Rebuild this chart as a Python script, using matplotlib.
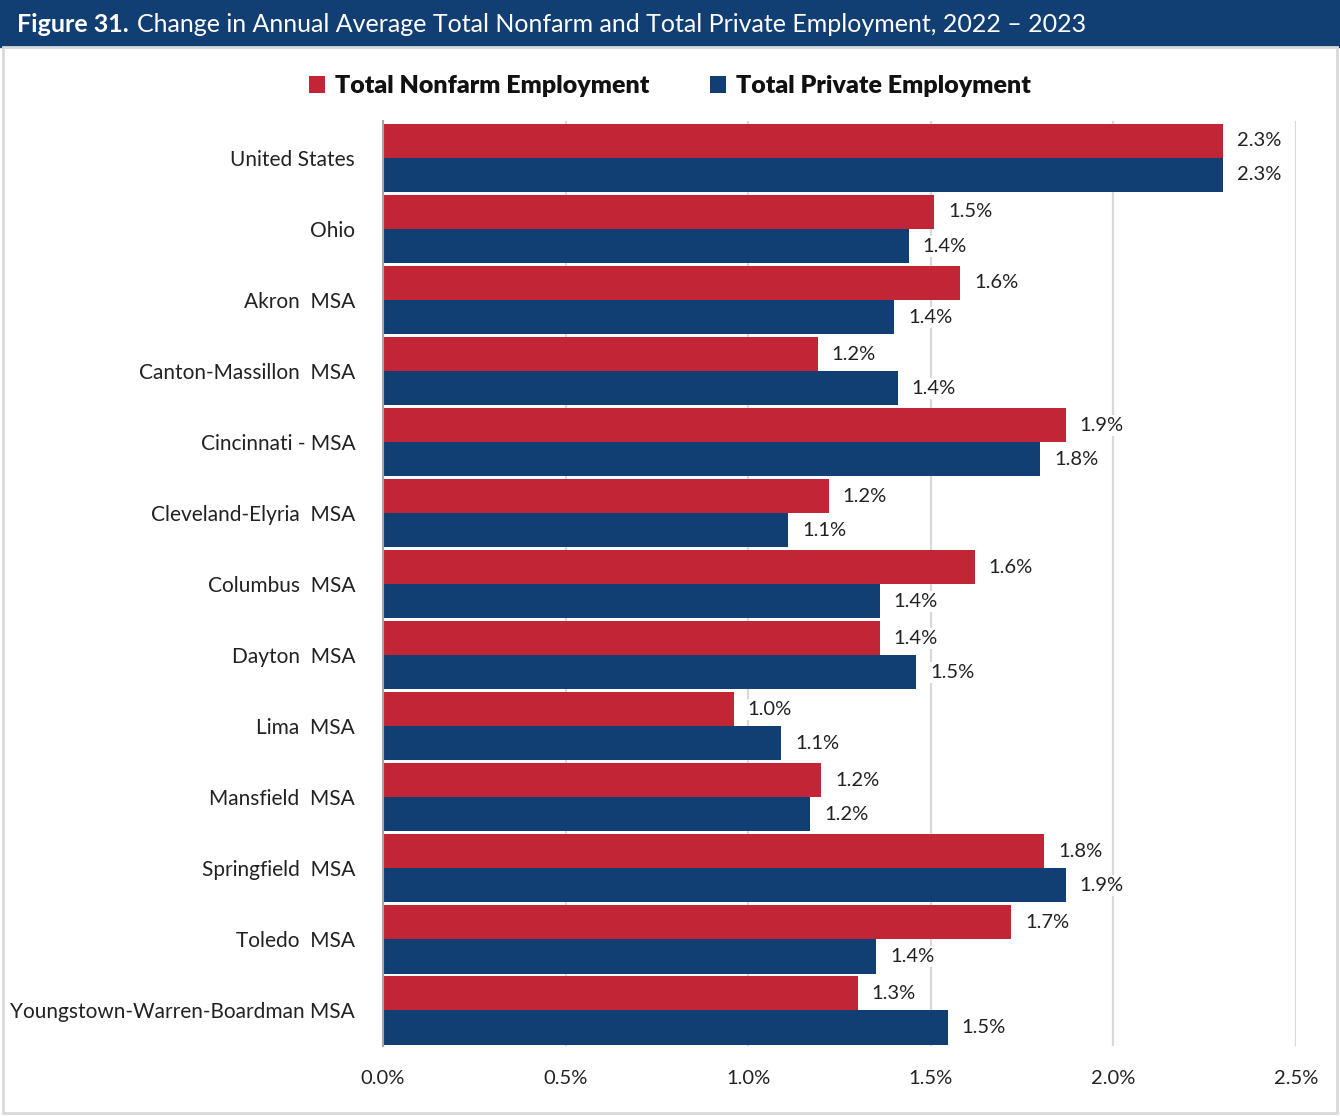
import matplotlib.pyplot as plt
from matplotlib.patches import Rectangle

regions = ['United States', 'Ohio', 'Akron  MSA', 'Canton-Massillon  MSA', 'Cincinnati - MSA',
           'Cleveland-Elyria  MSA', 'Columbus  MSA', 'Dayton  MSA', 'Lima  MSA', 'Mansfield  MSA',
           'Springfield  MSA', 'Toledo  MSA', 'Youngstown-Warren-Boardman MSA']
nonfarm = [2.30, 1.51, 1.58, 1.19, 1.87, 1.22, 1.62, 1.36, 0.96, 1.20, 1.81, 1.72, 1.30]
private = [2.30, 1.44, 1.40, 1.41, 1.80, 1.11, 1.36, 1.46, 1.09, 1.17, 1.87, 1.35, 1.547]
xticks = [0.0, 0.5, 1.0, 1.5, 2.0, 2.5]

red = '#c22535'
blue = '#113f73'
font = ['Lato', 'DejaVu Sans']
plt.rcParams['font.family'] = font

fig = plt.figure(figsize=(13.4, 11.16), dpi=100)
W, H = 1340, 1116

# title banner and light frame around the chart area
fig.patches.append(Rectangle((0, 1 - 47 / H), 1, 47 / H, transform=fig.transFigure,
                             color=blue, zorder=0))
fig.patches.append(Rectangle((3 / W, 3 / H), 1 - 6 / W, 1 - 50 / H, transform=fig.transFigure,
                             fill=False, edgecolor='#d9d9d9', linewidth=2, zorder=0))
fig.text(17 / W, 1 - 24 / H, 'Figure 31.', color='white', fontsize=18, fontweight='bold',
         va='center', ha='left')
fig.text(137 / W, 1 - 24 / H, 'Change in Annual Average Total Nonfarm and Total Private Employment, 2022 \u2013 2023',
         color='white', fontsize=18, va='center', ha='left')

ax = fig.add_axes([383 / W, 1 - 1046 / H, (1296 - 383) / W, (1046 - 121) / H])

ypos = list(range(len(regions)))
h = 0.48
ax.barh([y - h / 2 for y in ypos], nonfarm, height=h, color=red, label='Total Nonfarm Employment', zorder=2)
ax.barh([y + h / 2 for y in ypos], private, height=h, color=blue, label='Total Private Employment', zorder=2)

for y, v in zip(ypos, nonfarm):
    ax.text(v + 0.038, y - h / 2, f'{v:.1f}%', va='center', ha='left', fontsize=14.5, color='#222222',
            bbox=dict(facecolor='white', edgecolor='none', pad=1.5), zorder=3)
for y, v in zip(ypos, private):
    ax.text(v + 0.038, y + h / 2, f'{v:.1f}%', va='center', ha='left', fontsize=14.5, color='#222222',
            bbox=dict(facecolor='white', edgecolor='none', pad=1.5), zorder=3)

ax.set_xlim(0, 2.5)
ax.set_ylim(len(regions) - 0.5, -0.52)
ax.set_yticks(ypos)
ax.set_yticklabels(regions, fontsize=15, color='#222222')
ax.set_xticks(xticks)
ax.set_xticklabels([f'{t:.1f}%' for t in xticks], fontsize=14.5, color='#222222')
ax.tick_params(axis='both', length=0)
ax.tick_params(axis='y', pad=20)
ax.tick_params(axis='x', pad=17)
ax.grid(axis='x', color='#d9d9d9', linewidth=1.6, zorder=0)
ax.set_axisbelow(True)
for s in ['top', 'right', 'bottom']:
    ax.spines[s].set_visible(False)
ax.spines['left'].set_color('#a6a6a6')
ax.spines['left'].set_linewidth(1.5)
ax.spines['left'].set_zorder(4)

leg = fig.legend(loc='center', bbox_to_anchor=(0.5, 1 - 86 / H), ncol=2, frameon=False,
                 prop={'family': font, 'weight': 'heavy', 'size': 18},
                 handlelength=0.65, handleheight=0.65, handletextpad=0.4, columnspacing=2.4)
for t in leg.get_texts():
    t.set_color('#111111')

fig.savefig('out.png', dpi=100)
